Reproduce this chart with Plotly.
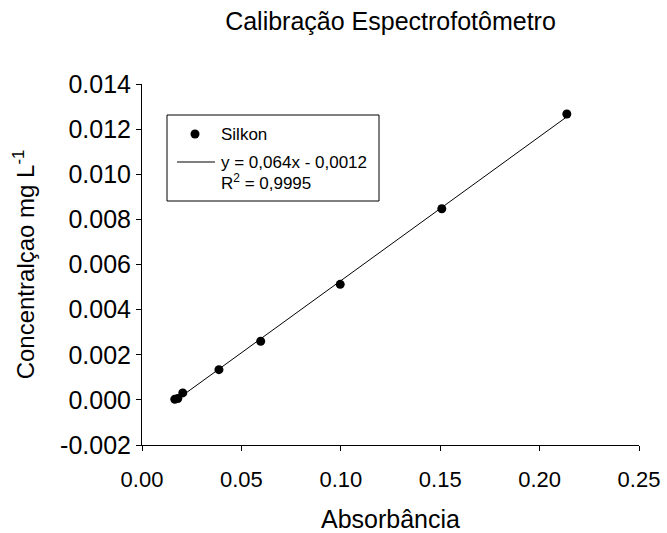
import numpy as np
import plotly.graph_objects as go

# Data
absorbancia = [0.0165, 0.0180, 0.0205, 0.0387, 0.0597, 0.0997, 0.1508, 0.2137]
concentracao = [0.00003, 0.00006, 0.00031, 0.00134, 0.00260, 0.00512, 0.00847, 0.01267]
x_ticks = [0.00, 0.05, 0.10, 0.15, 0.20, 0.25]
y_ticks = [-0.002, 0.000, 0.002, 0.004, 0.006, 0.008, 0.010, 0.012, 0.014]
series_name = "Silkon"
eq_text = "y = 0,064x - 0,0012"
r2_text = "R<sup>2</sup> = 0,9995"

FONT = "Liberation Sans, Arial, sans-serif"

slope, intercept = np.polyfit(absorbancia, concentracao, 1)
xfit = np.array([min(absorbancia), max(absorbancia)])
yfit = slope * xfit + intercept

fig = go.Figure()
fig.add_trace(go.Scatter(x=xfit, y=yfit, mode="lines",
                         line=dict(color="black", width=1), showlegend=False))
fig.add_trace(go.Scatter(x=absorbancia, y=concentracao, mode="markers",
                         marker=dict(color="black", size=9), showlegend=False))

# custom legend box
L, T = 142, 84
PW, PH = 497, 361
def px(x):
    return (x - L) / PW
def py(y):
    return (T + PH - y) / PH

fig.add_shape(type="rect", xref="paper", yref="paper",
              x0=px(167), x1=px(379), y0=py(201), y1=py(115),
              line=dict(color="black", width=1), fillcolor="white", layer="above")
fig.add_shape(type="circle", xref="paper", yref="paper", xsizemode="pixel", ysizemode="pixel",
              xanchor=px(195), yanchor=py(134), x0=-4.5, x1=4.5, y0=-4.5, y1=4.5,
              fillcolor="black", line=dict(color="black", width=0))
fig.add_shape(type="line", xref="paper", yref="paper",
              x0=px(177), x1=px(215), y0=py(162), y1=py(162),
              line=dict(color="black", width=1))
for txt, yy in [(series_name, 134), (eq_text, 162), (r2_text, 182)]:
    fig.add_annotation(xref="paper", yref="paper", x=px(219), y=py(yy),
                       text=txt, showarrow=False, xanchor="left", yanchor="middle",
                       font=dict(family=FONT, size=17, color="black"))

axis_common = dict(showgrid=False, zeroline=False, showline=True, linecolor="black",
                   linewidth=1, ticks="outside", ticklen=5, tickcolor="black", tickwidth=1,
                   mirror=False, automargin=False)

fig.update_layout(
    width=667, height=533,
    margin=dict(l=L, r=667 - L - PW, t=T, b=533 - T - PH, autoexpand=False),
    paper_bgcolor="white", plot_bgcolor="white",
    title=dict(text="Calibração Espectrofotômetro", x=0.5, xref="paper", xanchor="center",
               y=1 - 21 / 533, yref="container", yanchor="middle",
               font=dict(family=FONT, size=25, color="black")),
    xaxis=dict(range=[0, 0.25], tickvals=x_ticks, ticktext=[f"{v:.2f}" for v in x_ticks],
               tickfont=dict(family=FONT, size=22, color="black"), ticklabelstandoff=10,
               title=dict(text="Absorbância", font=dict(family=FONT, size=25, color="black"), standoff=19),
               **axis_common),
    yaxis=dict(range=[-0.002, 0.014], tickvals=y_ticks, ticktext=[f"{v:.3f}" for v in y_ticks],
               tickfont=dict(family=FONT, size=25, color="black"),
               title=dict(text="Concentralçao mg L<sup>-1</sup>",
                          font=dict(family=FONT, size=24, color="black"), standoff=18),
               **axis_common),
)

fig.write_html("out.html")
